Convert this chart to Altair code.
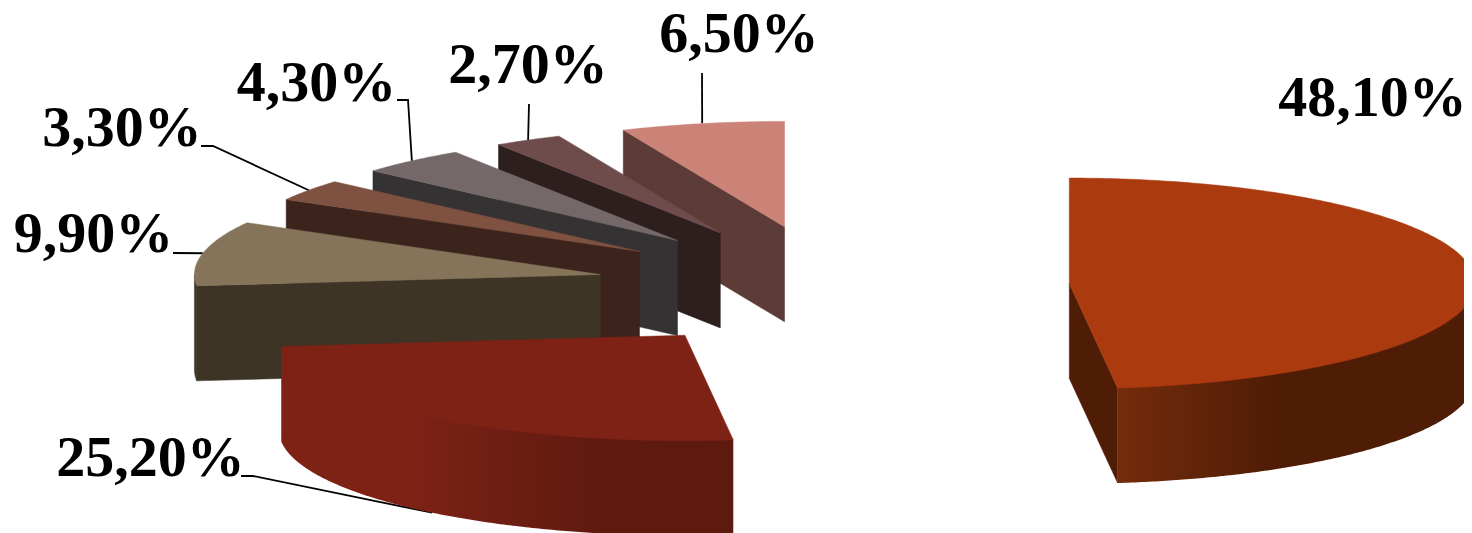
import math
import altair as alt

# --- chart values ---
values = [48.1, 25.2, 9.9, 3.3, 4.3, 2.7, 6.5]
labels = ["48,10%", "25,20%", "9,90%", "3,30%", "4,30%", "2,70%", "6,50%"]
top_colors = ["#AB3A0F", "#7F2216", "#85745A", "#7E5140", "#746868", "#6E4C4C", "#CB8378"]
wall_colors = ["#4F1C06", "#5F1A10", "#3D3425", "#3C241D", "#343232", "#2E1F1F", "#5D3B36"]

# --- pie geometry (page pixels) ---
PAGE = 8
CX, CY = 832.6 - PAGE, 287.1 - PAGE
RX, RY, DEPTH = 406.0, 105.4, 95.0
EXPLODE = 0.584

# rim-wall shading: (angle, colour) stops for the two slices with a visible gradient
shade = {
    0: [(90, "#4F1C06"), (149, "#4F1C06"), (173.2, "#742C0B")],
    1: [(173.2, "#5F1A10"), (192, "#5F1A10"), (224, "#7F2216"), (263.9, "#7F2216")],
}
# label placement in page pixels: text centre, baseline, then leader bends
placement = {
    0: (1372.5, 116, []),
    1: (150.5, 476, [(253, 476), (241, 476)]),
    2: (93.5, 252, [(173, 253)]),
    3: (122, 146, [(213, 146), (201, 146)]),
    4: (316.5, 101, [(408, 100), (397, 100)]),
    5: (528, 83, [(529, 104)]),
    6: (739, 52, [(702, 73)]),
}


def rim(ax, ay, deg, dy=0.0, k=1.0):
    r = math.radians(deg)
    return [ax + k * RX * math.sin(r), ay - k * RY * math.cos(r) + dy]


def poly(points, fill):
    ring = [list(p) for p in points]
    ring.append(ring[0])
    return {"type": "Feature", "properties": {"fill": fill},
            "geometry": {"type": "Polygon", "coordinates": [ring]}}


def arc_angles(a, b, step=0.5):
    n = max(1, int(math.ceil((b - a) / step)))
    return [a + (b - a) * i / n for i in range(n + 1)]


def wall_outline(ax, ay, lo, hi):
    # upper edge tucked slightly under the top face so no seam shows; ends stay on the rim
    up = arc_angles(lo, hi)
    upper = [rim(ax, ay, t, 0.0, 1.0 if t in (up[0], up[-1]) else 0.985) for t in up]
    return upper + [rim(ax, ay, t, DEPTH) for t in reversed(up)]


slices = []
start = 0.0
for i, v in enumerate(values):
    end = start + v * 3.6
    mid = (start + end) / 2
    m = math.radians(mid)
    ax = CX + EXPLODE * RX * math.sin(m)
    ay = CY - EXPLODE * RY * math.cos(m)
    slices.append(dict(i=i, start=start, end=end, mid=mid, ax=ax, ay=ay))
    start = end

proj = dict(type="identity", scale=1, translate=[0, 0])


def solid(features):
    return alt.Chart(alt.Data(values=features)).mark_geoshape(strokeWidth=0.5).encode(
        fill=alt.Fill("properties.fill:N", scale=None),
        stroke=alt.Stroke("properties.fill:N", scale=None),
    ).project(**proj)


def shaded_wall(s):
    i, ax, ay = s["i"], s["ax"], s["ay"]
    lo, hi = max(s["start"], 90.0), min(s["end"], 270.0)
    pts = wall_outline(ax, ay, lo, hi)
    xs = [p[0] for p in pts]
    x0, x1 = min(xs), max(xs)
    stops = sorted(
        (max(0.0, min(1.0, (rim(ax, ay, t)[0] - x0) / (x1 - x0))), c) for t, c in shade[i]
    )
    grad = alt.Gradient(
        gradient="linear", x1=0, x2=1, y1=0, y2=0,
        stops=[alt.GradientStop(offset=o, color=c) for o, c in stops],
    )
    return alt.Chart(alt.Data(values=[poly(pts, wall_colors[i])])).mark_geoshape(
        fill=grad, strokeWidth=0).project(**proj)


layers = []
for s in reversed(slices):
    i, a, b, ax, ay = s["i"], s["start"], s["end"], s["ax"], s["ay"]
    wall = wall_colors[i]
    apex, apex_low = [ax, ay], [ax, ay + DEPTH]
    group = []
    # radial wall facing the viewer
    if math.sin(math.radians(a)) < -1e-6:
        group.append(poly([apex, rim(ax, ay, a), rim(ax, ay, a, DEPTH), apex_low], wall))
    if math.sin(math.radians(b)) > 1e-6:
        group.append(poly([apex, rim(ax, ay, b), rim(ax, ay, b, DEPTH), apex_low], wall))
    # curved outer wall, only between 90 and 270 degrees
    lo, hi = max(a, 90.0), min(b, 270.0)
    if hi > lo and i not in shade:
        group.append(poly(wall_outline(ax, ay, lo, hi), wall))
    if group:
        layers.append(solid(group))
    if i in shade:
        layers.append(shaded_wall(s))
    # top face
    layers.append(solid([poly([apex] + [rim(ax, ay, t) for t in arc_angles(a, b)], top_colors[i])]))

leaders, texts = [], []
for s in slices:
    i = s["i"]
    cx, base, bends = placement[i]
    texts.append({"lon": cx - PAGE, "lat": base - PAGE, "t": labels[i]})
    if bends:
        anchor = rim(s["ax"], s["ay"], s["mid"], DEPTH if i == 1 else 0.0)
        pts = [anchor] + [[x - PAGE, y - PAGE] for x, y in bends]
        leaders.append({"type": "Feature", "properties": {},
                        "geometry": {"type": "LineString", "coordinates": pts}})

lines = alt.Chart(alt.Data(values=leaders)).mark_geoshape(
    filled=False, stroke="#000000", strokeWidth=1.8).project(**proj)
words = alt.Chart(alt.Data(values=texts)).mark_text(
    font="Liberation Serif", fontWeight="bold", fontSize=58, color="#000000",
    align="center", baseline="alphabetic",
).encode(longitude="lon:Q", latitude="lat:Q", text="t:N").project(**proj)

chart = alt.layer(lines, *layers, words).properties(
    width=1456, height=525, padding=0, autosize=alt.AutoSizeParams(type="none"),
).configure_view(stroke=None)

chart.save("out.html", embed_options={"renderer": "svg", "actions": False})
